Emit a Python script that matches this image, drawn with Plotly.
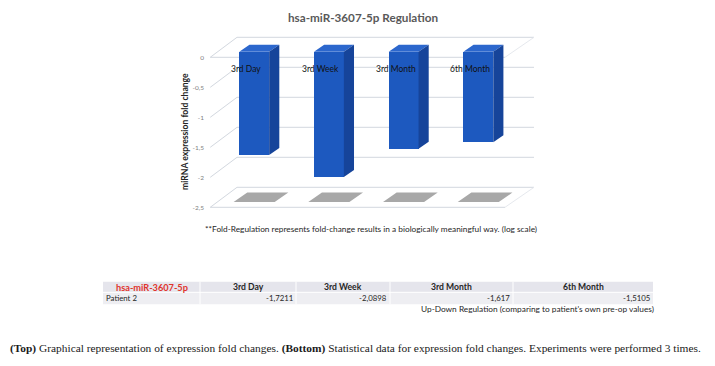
import plotly.graph_objects as go

# ---------------- data ----------------
categories = ["3rd Day", "3rd Week", "3rd Month", "6th Month"]
fold_change = [-1.7211, -2.0898, -1.617, -1.5105]
y_ticks = [0, -0.5, -1, -1.5, -2, -2.5]
y_tick_labels = ["0", "-0,5", "-1", "-1,5", "-2", "-2,5"]
chart_title = "hsa-miR-3607-5p Regulation"
y_title = "miRNA expression fold change"
footnote = "**Fold-Regulation represents fold-change results in a biologically meaningful way. (log scale)"
table_title = "hsa-miR-3607-5p"
row_label = "Patient 2"
table_note = "Up-Down Regulation (comparing to patient's own pre-op values)"
caption = ("<b>(Top)</b> Graphical representation of expression fold changes. "
           "<b>(Bottom)</b> Statistical data for expression fold changes. "
           "Experiments were performed 3 times.")

# ---------------- layout geometry ----------------
W, H = 715, 366
L, R, T, B = 208, 155, 30, 132
PW, PH = W - L - R, H - T - B
X_UNIT, X0 = 74.7, 246.1      # px per category, px of category 0 (front plane)
Y_UNIT, Y0 = 60.0, 57.3       # px per value unit, px of value 0 (front plane)
x_range = [(L - X0) / X_UNIT, (W - R - X0) / X_UNIT]
y_range = [(Y0 - (H - B)) / Y_UNIT, (Y0 - T) / Y_UNIT]
DX, DY = 29 / X_UNIT, 20 / Y_UNIT   # full depth of the pseudo-3D box
F0, F1 = 0.28, 0.63                  # bar front / back depth fractions
HALF_W = 0.2
x_left = x_range[0]
x_right = (505 - X0) / X_UNIT
floor_val = min(y_ticks)

def px2x(px):
    return (px - L) / PW

def px2y(py):
    return (H - B - py) / PH

FONT = "Lato"
GRID = "#d3d8df"
FRONT = "#1d59bf"
TOP = "#2c67cd"
SIDE = "#16449a"

fig = go.Figure()
idx = list(range(len(categories)))

# ---------------- walls / gridlines ----------------
shapes = []
for t in y_ticks:
    shapes.append(dict(type="line", xref="x", yref="y", layer="below",
                       x0=x_left + DX, y0=t + DY, x1=x_right + DX, y1=t + DY,
                       line=dict(color=GRID, width=1)))
    shapes.append(dict(type="line", xref="x", yref="y", layer="below",
                       x0=x_left + 0.03, y0=t, x1=x_left + DX, y1=t + DY,
                       line=dict(color=GRID, width=1)))
for t in (0, floor_val):
    shapes.append(dict(type="line", xref="x", yref="y", layer="below",
                       x0=x_left + 0.03, y0=t, x1=x_right, y1=t,
                       line=dict(color=GRID, width=1)))
    shapes.append(dict(type="line", xref="x", yref="y", layer="below",
                       x0=x_right, y0=t, x1=x_right + DX, y1=t + DY,
                       line=dict(color="#e6e9ee", width=1)))

# ---------------- floor shadows ----------------
sx, sy = [], []
d0, d1 = 0.265, 0.735
for i in idx:
    xa, xb = i - 0.27, i + 0.28
    sx += [xa + d0 * DX, xb + d0 * DX, xb + d1 * DX, xa + d1 * DX, xa + d0 * DX, None]
    sy += [floor_val + d0 * DY, floor_val + d0 * DY, floor_val + d1 * DY,
           floor_val + d1 * DY, floor_val + d0 * DY, None]
fig.add_trace(go.Scatter(x=sx, y=sy, mode="lines", fill="toself",
                         fillcolor="#a8a8a8", line=dict(width=0),
                         hoverinfo="skip", showlegend=False))

# ---------------- bars (front faces) ----------------
fig.add_trace(go.Bar(x=[i + F0 * DX for i in idx], y=fold_change, base=F0 * DY,
                     width=2 * HALF_W, marker=dict(color=FRONT, line=dict(width=0)),
                     hoverinfo="skip", showlegend=False))

# top faces
tx, ty = [], []
for i in idx:
    xa, xb = i - HALF_W, i + HALF_W
    tx += [xa + F0 * DX, xb + F0 * DX, xb + F1 * DX, xa + F1 * DX, xa + F0 * DX, None]
    ty += [F0 * DY, F0 * DY, F1 * DY, F1 * DY, F0 * DY, None]
fig.add_trace(go.Scatter(x=tx, y=ty, mode="lines", fill="toself", fillcolor=TOP,
                         line=dict(width=0), hoverinfo="skip", showlegend=False))

# side faces
rx, ry = [], []
for i, v in zip(idx, fold_change):
    xb = i + HALF_W
    rx += [xb + F0 * DX, xb + F0 * DX, xb + F1 * DX, xb + F1 * DX, xb + F0 * DX, None]
    ry += [F0 * DY, v + F0 * DY, v + F1 * DY, F1 * DY, F0 * DY, None]
fig.add_trace(go.Scatter(x=rx, y=ry, mode="lines", fill="toself", fillcolor=SIDE,
                         line=dict(width=0), hoverinfo="skip", showlegend=False))

# ---------------- annotations ----------------
ann = []
for i, c in zip(idx, categories):
    ann.append(dict(x=i, y=0, xref="x", yref="y", yshift=-12, text=c, showarrow=False,
                    font=dict(family=FONT, size=8.5, color="#111111"),
                    xanchor="center", yanchor="middle"))

ann.append(dict(x=px2x(185), y=px2y(132), xref="paper", yref="paper", text="<b>" + y_title + "</b>",
                textangle=-90, showarrow=False, font=dict(family=FONT, size=8.6, color="#262626"),
                xanchor="center", yanchor="middle"))

ann.append(dict(x=px2x(371), y=px2y(228.5), xref="paper", yref="paper", text=footnote,
                showarrow=False, font=dict(family=FONT, size=8.3, color="#262626"),
                xanchor="center", yanchor="middle"))

# ---------------- table ----------------
col_edges = [103, 200, 296, 390, 513, 653]
hdr_top, hdr_bot, row_bot = 281.7, 292.3, 304.3
shapes.append(dict(type="rect", xref="paper", yref="paper", layer="below",
                   x0=px2x(col_edges[0]), x1=px2x(col_edges[-1]), y0=px2y(hdr_bot), y1=px2y(hdr_top),
                   fillcolor="#e5e5ec", line=dict(width=0)))
shapes.append(dict(type="rect", xref="paper", yref="paper", layer="below",
                   x0=px2x(col_edges[0]), x1=px2x(col_edges[-1]), y0=px2y(row_bot), y1=px2y(hdr_bot),
                   fillcolor="#eeeef2", line=dict(width=0)))
for e in col_edges[1:-1]:
    shapes.append(dict(type="line", xref="paper", yref="paper", layer="below",
                       x0=px2x(e), x1=px2x(e), y0=px2y(row_bot), y1=px2y(hdr_top),
                       line=dict(color="#ffffff", width=1)))
shapes.append(dict(type="line", xref="paper", yref="paper", layer="below",
                   x0=px2x(col_edges[0]), x1=px2x(col_edges[-1]), y0=px2y(hdr_bot), y1=px2y(hdr_bot),
                   line=dict(color="#ffffff", width=1)))

hdr_y = px2y((hdr_top + hdr_bot) / 2)
row_y = px2y((hdr_bot + row_bot) / 2)
ann.append(dict(x=px2x((col_edges[0] + col_edges[1]) / 2), y=hdr_y, xref="paper", yref="paper",
                text="<b>" + table_title + "</b>", showarrow=False,
                font=dict(family=FONT, size=9.2, color="#e0342c"), xanchor="center", yanchor="middle"))
ann.append(dict(x=px2x(col_edges[0] + 1), y=row_y, xref="paper", yref="paper",
                text=row_label, showarrow=False,
                font=dict(family=FONT, size=7.8, color="#262626"), xanchor="left", yanchor="middle"))
for k, (c, v) in enumerate(zip(categories, fold_change)):
    a, b = col_edges[k + 1], col_edges[k + 2]
    ann.append(dict(x=px2x((a + b) / 2), y=hdr_y, xref="paper", yref="paper",
                    text="<b>" + c + "</b>", showarrow=False,
                    font=dict(family=FONT, size=8.6, color="#262626"), xanchor="center", yanchor="middle"))
    ann.append(dict(x=px2x(b - 1), y=row_y, xref="paper", yref="paper",
                    text=("{:g}".format(v)).replace(".", ","), showarrow=False,
                    font=dict(family=FONT, size=7.8, color="#262626"), xanchor="right", yanchor="middle"))
ann.append(dict(x=px2x(656), y=px2y(308.5), xref="paper", yref="paper", text=table_note,
                showarrow=False, font=dict(family=FONT, size=8.3, color="#262626"),
                xanchor="right", yanchor="middle"))

# caption
ann.append(dict(x=px2x(8), y=px2y(348), xref="paper", yref="paper", text=caption,
                showarrow=False, font=dict(family="Liberation Serif", size=11.4, color="#1a1a1a"),
                xanchor="left", yanchor="middle"))

fig.update_layout(
    width=W, height=H,
    margin=dict(l=L, r=R, t=T, b=B),
    paper_bgcolor="white", plot_bgcolor="white",
    title=dict(text="<b>" + chart_title + "</b>", x=363 / W, y=1 - 18 / H,
               xanchor="center", yanchor="middle",
               font=dict(family=FONT, size=11.7, color="#595959")),
    xaxis=dict(range=x_range, visible=False, fixedrange=True),
    yaxis=dict(range=y_range, tickvals=y_ticks, ticktext=y_tick_labels,
               showgrid=False, zeroline=False, showline=False, ticks="",
               ticklabelstandoff=3,
               tickfont=dict(family=FONT, size=6.5, color="#808080"), fixedrange=True),
    shapes=shapes, annotations=ann, showlegend=False, bargap=0,
)

fig.write_html("out.html", config={"displayModeBar": False},
               post_script="document.body.style.margin='0';")
